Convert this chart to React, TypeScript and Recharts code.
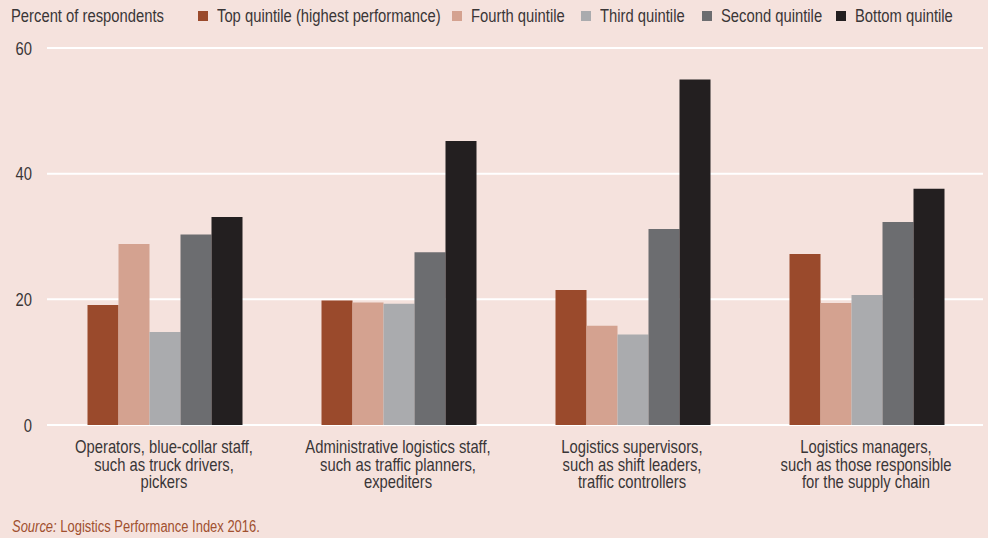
import React from "react";
import { BarChart, Bar, XAxis, YAxis, CartesianGrid } from "recharts";

const categories = [
  "Operators, blue-collar staff,|such as truck drivers,|pickers",
  "Administrative logistics staff,|such as traffic planners,|expediters",
  "Logistics supervisors,|such as shift leaders,|traffic controllers",
  "Logistics managers,|such as those responsible|for the supply chain",
];
const topQuintile = [19.1, 19.8, 21.5, 27.2];
const fourthQuintile = [28.8, 19.5, 15.8, 19.4];
const thirdQuintile = [14.8, 19.3, 14.4, 20.7];
const secondQuintile = [30.3, 27.5, 31.2, 32.3];
const bottomQuintile = [33.1, 45.2, 55.0, 37.6];
const yTicks = [0, 20, 40, 60];

const series = [
  { key: "top", name: "Top quintile (highest performance)", color: "#9a4a2c", values: topQuintile },
  { key: "fourth", name: "Fourth quintile", color: "#d4a290", values: fourthQuintile },
  { key: "third", name: "Third quintile", color: "#aaabae", values: thirdQuintile },
  { key: "second", name: "Second quintile", color: "#6c6d70", values: secondQuintile },
  { key: "bottom", name: "Bottom quintile", color: "#231f20", values: bottomQuintile },
];
const legendLefts = [198, 452, 581, 702, 836];

const data = categories.map((c, i) => {
  const row: any = { category: c };
  series.forEach((s) => (row[s.key] = s.values[i]));
  return row;
});

const FONT = "'Liberation Sans', Arial, sans-serif";
const TEXT = "#3a3637";
const BG = "#f5e2dd";
const FS = 17.5;
const SX = 0.845;

const XTick = (props: any) => {
  const { x, y, payload } = props;
  const lines = String(payload.value).split("|");
  return (
    <g transform={`translate(${x},${y}) scale(${SX},1)`}>
      {lines.map((l, i) => (
        <text key={i} x={0} y={20 + i * 17.6} textAnchor="middle" fontFamily={FONT} fontSize={FS} fill={TEXT}>
          {l}
        </text>
      ))}
    </g>
  );
};

const YTick = (props: any) => {
  const { x, y, payload } = props;
  return (
    <g transform={`translate(${x},${y}) scale(${SX},1)`}>
      <text x={0} y={6.5} textAnchor="end" fontFamily={FONT} fontSize={FS} fill={TEXT}>
        {payload.value}
      </text>
    </g>
  );
};

const scaled: React.CSSProperties = { transform: `scaleX(${SX})`, transformOrigin: "left center", whiteSpace: "nowrap" };

export default function App() {
  return (
    <div style={{ position: "fixed", left: 0, top: 0, width: 988, height: 538, background: BG, fontFamily: FONT, color: TEXT, overflow: "hidden" }}>
      <div style={{ position: "absolute", left: 11, top: 6, fontSize: FS, lineHeight: "20px", ...scaled }}>Percent of respondents</div>
      {series.map((s, i) => (
        <div key={s.key} style={{ position: "absolute", left: legendLefts[i], top: 6, height: 20, fontSize: FS, lineHeight: "20px", display: "flex", alignItems: "center", whiteSpace: "nowrap" }}>
          <span style={{ display: "inline-block", width: 10, height: 10, background: s.color, marginRight: 9 }} />
          <span style={{ display: "inline-block", ...scaled }}>{s.name}</span>
        </div>
      ))}
      <div style={{ position: "absolute", left: 12, top: 518, fontSize: 16, lineHeight: "18px", color: "#a0502f", ...scaled, transform: "scaleX(0.81)" }}>
        <i>Source:</i> Logistics Performance Index 2016.
      </div>
      <div style={{ position: "absolute", left: 0, top: 0 }}>
        <BarChart width={988} height={538} data={data} margin={{ top: 48, right: 5, bottom: 0, left: 0 }} barGap={0} barCategoryGap={40.5}>
          <CartesianGrid vertical={false} stroke="#ffffff" strokeWidth={2} />
          <XAxis dataKey="category" axisLine={false} tickLine={false} tick={<XTick />} height={113} interval={0} />
          <YAxis
            domain={[0, 60]}
            ticks={yTicks}
            width={47}
            axisLine={false}
            tickLine={false}
            tickSize={0}
            tickMargin={15}
            tick={<YTick />}
          />
          {series.map((s) => (
            <Bar key={s.key} dataKey={s.key} name={s.name} fill={s.color} isAnimationActive={false} />
          ))}
        </BarChart>
      </div>
    </div>
  );
}
